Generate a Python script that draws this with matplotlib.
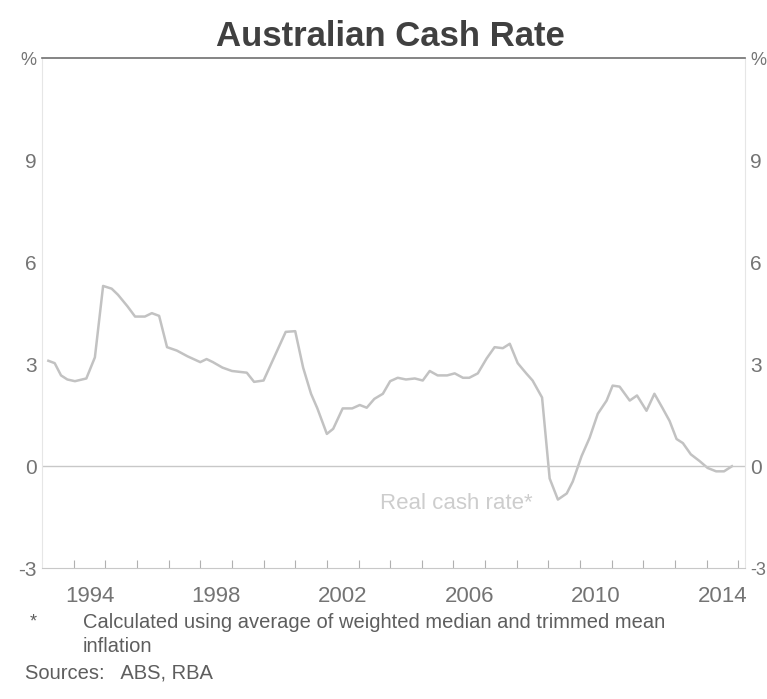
import matplotlib
matplotlib.use('Agg')
import matplotlib.pyplot as plt
import numpy as np

plt.rcParams['font.family'] = ['Liberation Sans', 'DejaVu Sans']

# real cash rate (decimal year, %)
dates = [1993.20, 1993.40, 1993.60, 1993.80, 1994.04, 1994.40, 1994.67, 1994.93,
         1995.20, 1995.40, 1995.70, 1995.94, 1996.25, 1996.47, 1996.70, 1996.95,
         1997.26, 1997.60, 1998.00, 1998.20, 1998.40, 1998.70, 1999.00, 1999.47,
         1999.70, 2000.00, 2000.70, 2001.00, 2001.25, 2001.50, 2001.70, 2002.00,
         2002.20, 2002.50, 2002.80, 2003.04, 2003.26, 2003.50, 2003.77, 2004.00,
         2004.24, 2004.50, 2004.78, 2005.03, 2005.25, 2005.50, 2005.80, 2006.04,
         2006.30, 2006.50, 2006.77, 2007.05, 2007.30, 2007.56, 2007.78, 2008.03,
         2008.30, 2008.50, 2008.80, 2009.04, 2009.30, 2009.58, 2009.77, 2010.05,
         2010.30, 2010.56, 2010.84, 2011.03, 2011.25, 2011.57, 2011.80, 2012.10,
         2012.35, 2012.60, 2012.83, 2013.05, 2013.25, 2013.50, 2013.78, 2014.03,
         2014.30, 2014.55, 2014.80]
real_rate = [3.10, 3.03, 2.67, 2.55, 2.50, 2.58, 3.20, 5.30,
             5.22, 5.04, 4.70, 4.40, 4.40, 4.50, 4.42, 3.50,
             3.40, 3.23, 3.06, 3.15, 3.06, 2.90, 2.80, 2.75,
             2.48, 2.52, 3.95, 3.97, 2.90, 2.13, 1.70, 0.95,
             1.10, 1.70, 1.70, 1.80, 1.72, 1.98, 2.13, 2.50,
             2.60, 2.55, 2.58, 2.52, 2.80, 2.67, 2.67, 2.73,
             2.60, 2.60, 2.73, 3.17, 3.50, 3.47, 3.60, 3.03,
             2.73, 2.52, 2.02, -0.36, -0.98, -0.80, -0.45, 0.30,
             0.83, 1.54, 1.93, 2.37, 2.34, 1.93, 2.08, 1.63,
             2.13, 1.72, 1.33, 0.80, 0.68, 0.35, 0.15, -0.05,
             -0.15, -0.15, 0.00]

year_labels = [1994, 1998, 2002, 2006, 2010, 2014]
y_ticks = [-3, 0, 3, 6, 9, 12]
y_labels = ['-3', '0', '3', '6', '9', '%']

label_col = '#747474'

fig = plt.figure(figsize=(7.67, 6.99), dpi=100)
ax = fig.add_axes([0.0548, 0.187, 0.916, 0.730])

ax.plot(dates, real_rate, color='#c2c2c2', lw=1.8)
ax.axhline(0, color='#c8c8c8', lw=1.0)
ax.text(2006.1, -1.1, 'Real cash rate*', color='#cdcdcd', fontsize=16,
        ha='center', va='center')

ax.set_xlim(1993.0, 2015.2)
ax.set_ylim(-3, 12)

# year labels centred on each year, small ticks on year boundaries
ax.set_xticks([y + 0.5 for y in year_labels])
ax.set_xticklabels([str(y) for y in year_labels])
ax.set_xticks(np.arange(1994, 2016), minor=True)
ax.tick_params(axis='x', which='major', length=0, pad=13, labelsize=16, labelcolor=label_col)
ax.tick_params(axis='x', which='minor', direction='in', length=6, color='#b0b0b0', width=0.8)

ax.set_yticks(y_ticks)
ax.set_yticklabels(y_labels)
ax.tick_params(axis='y', which='both', length=0, pad=4, labelsize=15, labelcolor=label_col,
               labelleft=True, labelright=True)
top_tick = ax.yaxis.get_major_ticks()[-1]
top_tick.label1.set_fontsize(13)
top_tick.label2.set_fontsize(13)
ax.yaxis.get_major_ticks()[0].label2.set_fontsize(13)

for side in ['left', 'right']:
    ax.spines[side].set_color('#e6e6e6')
    ax.spines[side].set_linewidth(0.8)
ax.spines['bottom'].set_color('#c8c8c8')
ax.spines['bottom'].set_linewidth(0.8)
ax.spines['top'].set_color('#707070')
ax.spines['top'].set_linewidth(1.2)

fig.text(390 / 767, 1 - 36 / 699, 'Australian Cash Rate', ha='center', va='center',
         fontsize=25, fontweight='bold', color='#404040')

foot_col = '#5e5e5e'
fig.text(30 / 767, 1 - 622 / 699, '*', ha='left', va='center', fontsize=13, color=foot_col)
fig.text(83 / 767, 1 - 622 / 699, 'Calculated using average of weighted median and trimmed mean',
         ha='left', va='center', fontsize=14.5, color=foot_col)
fig.text(83 / 767, 1 - 646 / 699, 'inflation', ha='left', va='center', fontsize=14.5,
         color=foot_col)
fig.text(25 / 767, 1 - 673 / 699, 'Sources:   ABS, RBA', ha='left', va='center',
         fontsize=14.5, color=foot_col)

fig.savefig('out.png', dpi=100)
